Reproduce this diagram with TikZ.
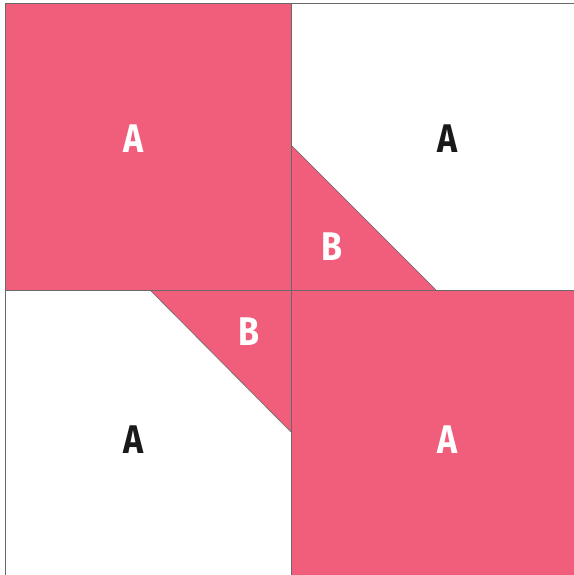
\documentclass[tikz,border=0pt]{standalone}
\usepackage{fontspec}
\setsansfont{Fira Sans}[FakeStretch=0.85]
\definecolor{quiltpink}{RGB}{240,94,123}
\definecolor{seamgray}{RGB}{105,105,105}

\begin{document}
\begin{tikzpicture}[
  x=1pt, y=-1pt,
  seam/.style  = {draw=seamgray, line width=0.9pt},
  patch/.style = {fill=quiltpink},
  lblw/.style  = {font=\sffamily\bfseries\fontsize{40}{40}\selectfont, text=white},
  lblk/.style  = {font=\sffamily\bfseries\fontsize{40}{40}\selectfont, text=black!90},
]
\useasboundingbox (0,0) rectangle (573,575);

%% four squares of the block
\fill[patch] (5.5,3) rectangle (291,290);
\fill[patch] (291,290) rectangle (580,580);

%% half-square triangles across the centre
\fill[patch] (291,145) -- (291,290) -- (436,290) -- cycle;
\fill[patch] (150,290) -- (291,290) -- (291,432) -- cycle;
\draw[seam, line width=0.6pt] (291,145) -- (436,290);
\draw[seam, line width=0.6pt] (150,290) -- (291,432);

%% seams
\draw[seam] (5.5,580) -- (5.5,3) -- (580,3);
\draw[seam] (291,3) -- (291,580);
\draw[seam] (5.5,290) -- (580,290);

%% labels
\node[lblw] (tlA) at (134,139) {A};
\node[lblk] (trA) at (448,139) {A};
\node[lblw] (trB) at (332,247) {B};
\node[lblw] (blB) at (249,332) {B};
\node[lblk] (blA) at (134,440) {A};
\node[lblw] (brA) at (448,440) {A};

\end{tikzpicture}
\end{document}
